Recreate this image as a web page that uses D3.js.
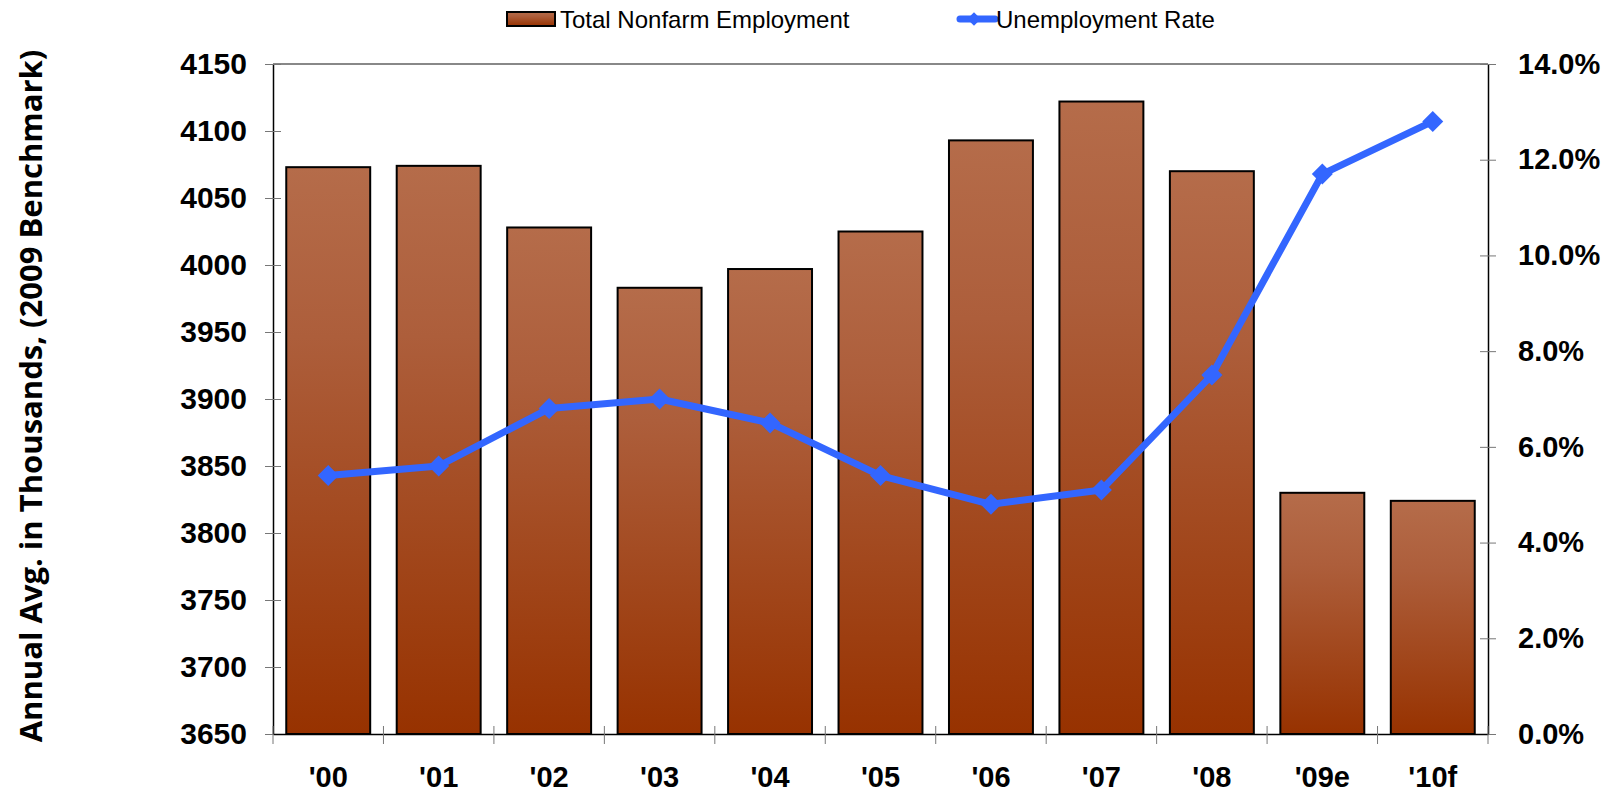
<!DOCTYPE html>
<html>
<head>
<meta charset="utf-8">
<script src="https://cdn.jsdelivr.net/npm/d3@7"></script>
<style>
  body { margin: 0; background: #fff; }
  svg { display: block; }
</style>
</head>
<body>
<div id="chart"></div>
<script>
// Chart data
var years = ["'00", "'01", "'02", "'03", "'04", "'05", "'06", "'07", "'08", "'09e", "'10f"];
var employment = [4073, 4074, 4028, 3983, 3997, 4025, 4093, 4122, 4070, 3830, 3824];
var unemployment = [5.4, 5.6, 6.8, 7.0, 6.5, 5.4, 4.8, 5.1, 7.5, 11.7, 12.8];
var leftTicks = [3650, 3700, 3750, 3800, 3850, 3900, 3950, 4000, 4050, 4100, 4150];
var rightTicks = [0, 2, 4, 6, 8, 10, 12, 14];

var svgWidth = 1615;
var svgHeight = 795;

var margin = { top: 64, right: 127, bottom: 61, left: 273 };
var width = svgWidth - margin.left - margin.right;
var height = svgHeight - margin.top - margin.bottom;

var svg = d3.select("#chart")
  .append("svg")
  .attr("width", svgWidth)
  .attr("height", svgHeight);

// bar gradient
var defs = svg.append("defs");
var grad = defs.append("linearGradient")
  .attr("id", "barGrad")
  .attr("x1", 0).attr("y1", 0).attr("x2", 0).attr("y2", 1);
grad.append("stop").attr("offset", "0%").attr("stop-color", "#b56c4a");
grad.append("stop").attr("offset", "30%").attr("stop-color", "#ad5e3b");
grad.append("stop").attr("offset", "100%").attr("stop-color", "#973200");

var chartGroup = svg.append("g")
  .attr("transform", `translate(${margin.left}, ${margin.top})`);

// scales
var xBandScale = d3.scaleBand()
  .domain(years)
  .range([0, width])
  .paddingInner(0.24)
  .paddingOuter(0.12);

var yLeftScale = d3.scaleLinear()
  .domain([3650, 4150])
  .range([height, 0]);

var yRightScale = d3.scaleLinear()
  .domain([0, 14])
  .range([height, 0]);

// top border line
chartGroup.append("line")
  .attr("x1", 0).attr("x2", width)
  .attr("y1", 0).attr("y2", 0)
  .attr("stroke", "#888")
  .attr("stroke-width", 2);

// bars
chartGroup.selectAll("rect.bar")
  .data(employment)
  .enter()
  .append("rect")
  .attr("class", "bar")
  .attr("x", (d, i) => xBandScale(years[i]))
  .attr("y", d => yLeftScale(d))
  .attr("width", xBandScale.bandwidth())
  .attr("height", d => height - yLeftScale(d))
  .attr("fill", "url(#barGrad)")
  .attr("stroke", "#000")
  .attr("stroke-width", 2);

// left axis
var leftAxis = d3.axisLeft(yLeftScale)
  .tickValues(leftTicks)
  .tickFormat(d3.format("d"))
  .tickSizeInner(8)
  .tickSizeOuter(0)
  .tickPadding(18);

var leftG = chartGroup.append("g").call(leftAxis);
leftG.select(".domain").attr("stroke", "#000").attr("stroke-width", 1.5);
leftG.selectAll(".tick line").attr("x2", 8).attr("x1", -8).attr("stroke", "#777");
leftG.selectAll(".tick text")
  .attr("font-family", "'Liberation Sans', Arial, sans-serif")
  .attr("font-weight", "bold")
  .attr("font-size", "30px")
  .attr("fill", "#000");

// right axis
var rightAxis = d3.axisRight(yRightScale)
  .tickValues(rightTicks)
  .tickFormat(d => d.toFixed(1) + "%")
  .tickSizeInner(8)
  .tickSizeOuter(0)
  .tickPadding(22);

var rightG = chartGroup.append("g")
  .attr("transform", `translate(${width}, 0)`)
  .call(rightAxis);
rightG.select(".domain").attr("stroke", "#000").attr("stroke-width", 1.5);
rightG.selectAll(".tick line").attr("x1", -8).attr("x2", 8).attr("stroke", "#777");
rightG.selectAll(".tick text")
  .attr("font-family", "'Liberation Sans', Arial, sans-serif")
  .attr("font-weight", "bold")
  .attr("font-size", "29px")
  .attr("fill", "#000");

// bottom axis (labels)
var bottomAxis = d3.axisBottom(xBandScale)
  .tickSize(0)
  .tickPadding(32);

var bottomG = chartGroup.append("g")
  .attr("transform", `translate(0, ${height})`)
  .call(bottomAxis);
bottomG.select(".domain").attr("stroke", "#000").attr("stroke-width", 1.5);
bottomG.selectAll(".tick text")
  .attr("font-family", "'Liberation Sans', Arial, sans-serif")
  .attr("font-weight", "bold")
  .attr("font-size", "29px")
  .attr("fill", "#000");

// category boundary ticks
var boundaries = years.map((d, i) => i === 0 ? 0 : (xBandScale(years[i - 1]) + xBandScale(d) + xBandScale.bandwidth()) / 2);
boundaries.push(width);
bottomG.selectAll("line.sep")
  .data(boundaries)
  .enter()
  .append("line")
  .attr("class", "sep")
  .attr("x1", d => d).attr("x2", d => d)
  .attr("y1", -8).attr("y2", 10)
  .attr("stroke", "#777");

// unemployment line
var lineGen = d3.line()
  .x((d, i) => xBandScale(years[i]) + xBandScale.bandwidth() / 2)
  .y(d => yRightScale(d));

chartGroup.append("path")
  .datum(unemployment)
  .attr("d", lineGen)
  .attr("fill", "none")
  .attr("stroke", "#3366ff")
  .attr("stroke-width", 7)
  .attr("stroke-linejoin", "round");

var diamond = d3.symbol().type(d3.symbolSquare).size(220);
chartGroup.selectAll("path.marker")
  .data(unemployment)
  .enter()
  .append("path")
  .attr("class", "marker")
  .attr("d", diamond)
  .attr("transform", (d, i) => `translate(${xBandScale(years[i]) + xBandScale.bandwidth() / 2}, ${yRightScale(d)}) rotate(45)`)
  .attr("fill", "#3366ff");

// y axis title
svg.append("text")
  .attr("transform", "translate(42, 396) rotate(-90)")
  .attr("text-anchor", "middle")
  .attr("font-family", "'Open Sans', sans-serif")
  .attr("font-weight", "bold")
  .attr("font-size", "31px")
  .attr("fill", "#000")
  .text("Annual Avg. in Thousands, (2009 Benchmark)");

// legend
var legend = svg.append("g");
legend.append("rect")
  .attr("x", 507).attr("y", 12)
  .attr("width", 48).attr("height", 14)
  .attr("fill", "url(#barGrad)")
  .attr("stroke", "#000")
  .attr("stroke-width", 2);
legend.append("text")
  .attr("x", 560).attr("y", 28)
  .attr("font-family", "'Liberation Sans', Arial, sans-serif")
  .attr("font-size", "24px")
  .attr("fill", "#000")
  .text("Total Nonfarm Employment");

legend.append("line")
  .attr("x1", 960).attr("x2", 995)
  .attr("y1", 19).attr("y2", 19)
  .attr("stroke", "#3366ff")
  .attr("stroke-width", 7)
  .attr("stroke-linecap", "round");
legend.append("path")
  .attr("d", d3.symbol().type(d3.symbolSquare).size(90))
  .attr("transform", "translate(974, 19) rotate(45)")
  .attr("fill", "#3366ff");
legend.append("text")
  .attr("x", 996).attr("y", 28)
  .attr("font-family", "'Liberation Sans', Arial, sans-serif")
  .attr("font-size", "24px")
  .attr("fill", "#000")
  .text("Unemployment Rate");
</script>
</body>
</html>
